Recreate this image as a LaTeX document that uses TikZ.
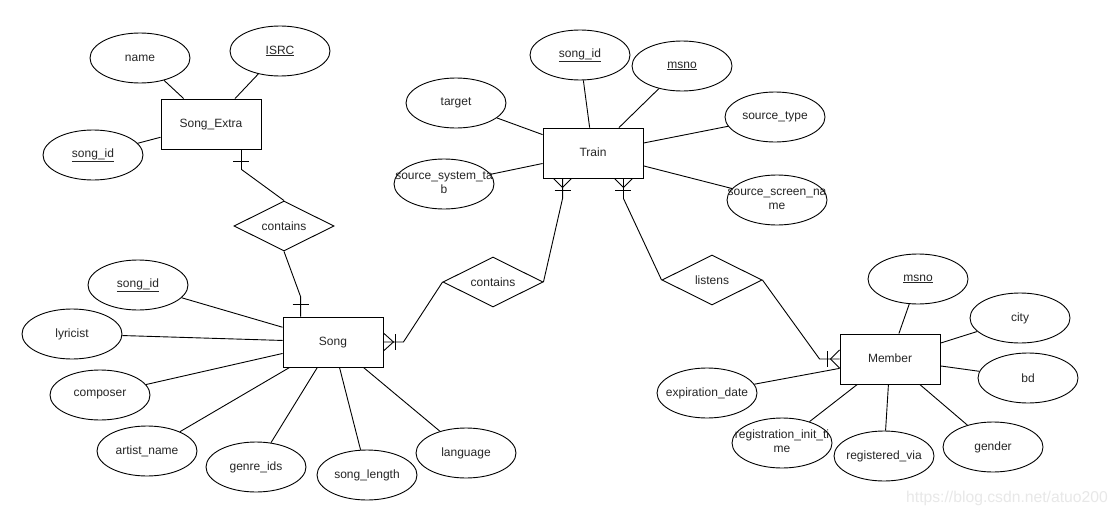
\documentclass[tikz,border=0pt]{standalone}
\usepackage{fontspec}
\setmainfont{Liberation Sans}
\usetikzlibrary{shapes.geometric,calc}
\newcommand\zw[1]{\makebox[0pt]{#1}}
\newcommand\twol[2]{\makebox[0pt]{\begin{tabular}{@{}c@{}}#1\\#2\end{tabular}}}
\tikzset{
  base/.style={draw=black, line width=0.9pt, inner sep=0pt, text=black!85,
    font=\fontsize{12}{14}\selectfont},
  ent/.style={base, rectangle, minimum width=100pt, minimum height=50pt,
    text height=9pt, text depth=3pt},
  attr/.style={base, ellipse, minimum width=100pt, minimum height=50pt},
  rel/.style={base, diamond, aspect=2, minimum width=100pt, minimum height=50pt},
  conn/.style={draw=black, line width=0.9pt},
}
\begin{document}
\begin{tikzpicture}[x=1pt,y=-1pt]
\useasboundingbox (0,0) rectangle (1118,519);
\fill[white] (0,0) rectangle (1118,519);

% entities
\node[ent] (se) at (211,124) {Song\_Extra};
\node[ent] (train) at (593,153) {Train};
\node[ent] (song) at (333,342) {Song};
\node[ent] (mb) at (890,359) {Member};

% relationships
\node[rel] (c1) at (284,226) {\zw{contains}};
\node[rel] (c2) at (493,282) {\zw{contains}};
\node[rel] (ls) at (712,280) {\zw{listens}};

% Song_Extra attributes
\node[attr] (nm) at (140,58) {\zw{name}};
\node[attr] (isrc) at (280,51) {\zw{\underline{ISRC}}};
\node[attr] (sid1) at (93,155) {\zw{\underline{song\_id}}};

% Train attributes
\node[attr] (sid2) at (580,55) {\zw{\underline{song\_id}}};
\node[attr] (msno1) at (682,66) {\zw{\underline{msno}}};
\node[attr] (tgt) at (456,103) {\zw{target}};
\node[attr] (stype) at (775,117) {\zw{source\_type}};
\node[attr] (sst) at (444,184) {\twol{source\_system\_ta}{b}};
\node[attr] (ssn) at (777,200) {\twol{source\_screen\_na}{me}};

% Song attributes
\node[attr] (sid3) at (138,285) {\zw{\underline{song\_id}}};
\node[attr] (lyr) at (72,334) {\zw{lyricist}};
\node[attr] (comp) at (100,395) {\zw{composer}};
\node[attr] (art) at (147,451) {\zw{artist\_name}};
\node[attr] (gen) at (256,467) {\zw{genre\_ids}};
\node[attr] (slen) at (367,475) {\zw{song\_length}};
\node[attr] (lang) at (466,453) {\zw{language}};

% Member attributes
\node[attr] (msno2) at (918,279) {\zw{\underline{msno}}};
\node[attr] (city) at (1020,318) {\zw{city}};
\node[attr] (bd) at (1028,378) {\zw{bd}};
\node[attr] (gender) at (993,447) {\zw{gender}};
\node[attr] (regv) at (884,456) {\zw{registered\_via}};
\node[attr] (rit) at (782,443) {\twol{registration\_init\_ti}{me}};
\node[attr] (exp) at (707,393) {\zw{expiration\_date}};

% attribute connectors
\foreach \a in {nm,isrc,sid1} \draw[conn] (se) -- (\a);
\foreach \a in {sid2,msno1,tgt,stype,sst,ssn} \draw[conn] (train) -- (\a);
\foreach \a in {sid3,lyr,comp,art,gen,slen,lang} \draw[conn] (song) -- (\a);
\foreach \a in {msno2,city,bd,gender,regv,rit,exp} \draw[conn] (mb) -- (\a);

% Song_Extra -- contains (one)
\coordinate (seB) at ($(se.south east)+(-20,0)$);
\draw[conn] (seB) -- ++(0,20) -- (c1.north);
\draw[conn] ($(seB)+(-8,12)$) -- ++(16,0);

% Song -- contains (one)
\coordinate (sgT) at ($(song.north west)+(18,0)$);
\draw[conn] (sgT) -- ++(0,-20) -- (c1.south);
\draw[conn] ($(sgT)+(-8,-12)$) -- ++(16,0);

% Song -- contains (one to many)
\coordinate (sgR) at (song.east);
\draw[conn] (sgR) -- ++(20,0) -- (c2.west);
\draw[conn] ($(sgR)+(0,-9)$) -- ($(sgR)+(10,0)$) -- ($(sgR)+(0,9)$);
\draw[conn] ($(sgR)+(12,-8)$) -- ++(0,16);

% Train -- contains (one to many)
\coordinate (trL) at ($(train.south west)+(20,0)$);
\draw[conn] (trL) -- ++(0,20) -- (c2.east);
\draw[conn] ($(trL)+(-9,0)$) -- ($(trL)+(0,9)$) -- ($(trL)+(9,0)$);
\draw[conn] ($(trL)+(-8,12)$) -- ++(16,0);

% Train -- listens (one to many)
\coordinate (trR) at ($(train.south east)+(-20,0)$);
\draw[conn] (trR) -- ++(0,20) -- (ls.west);
\draw[conn] ($(trR)+(-9,0)$) -- ($(trR)+(0,9)$) -- ($(trR)+(9,0)$);
\draw[conn] ($(trR)+(-8,12)$) -- ++(16,0);

% Member -- listens (one to many)
\coordinate (mbL) at (mb.west);
\draw[conn] (mbL) -- ++(-20,0) -- (ls.east);
\draw[conn] ($(mbL)+(0,-9)$) -- ($(mbL)+(-9,0)$) -- ($(mbL)+(0,9)$);
\draw[conn] ($(mbL)+(-12,-8)$) -- ++(0,16);

% watermark
\node[text=black!9, font=\fontsize{15.7}{18}\selectfont, inner sep=0pt] (wm) at (1007,498) {https://blog.csdn.net/atuo200};
\end{tikzpicture}
\end{document}
